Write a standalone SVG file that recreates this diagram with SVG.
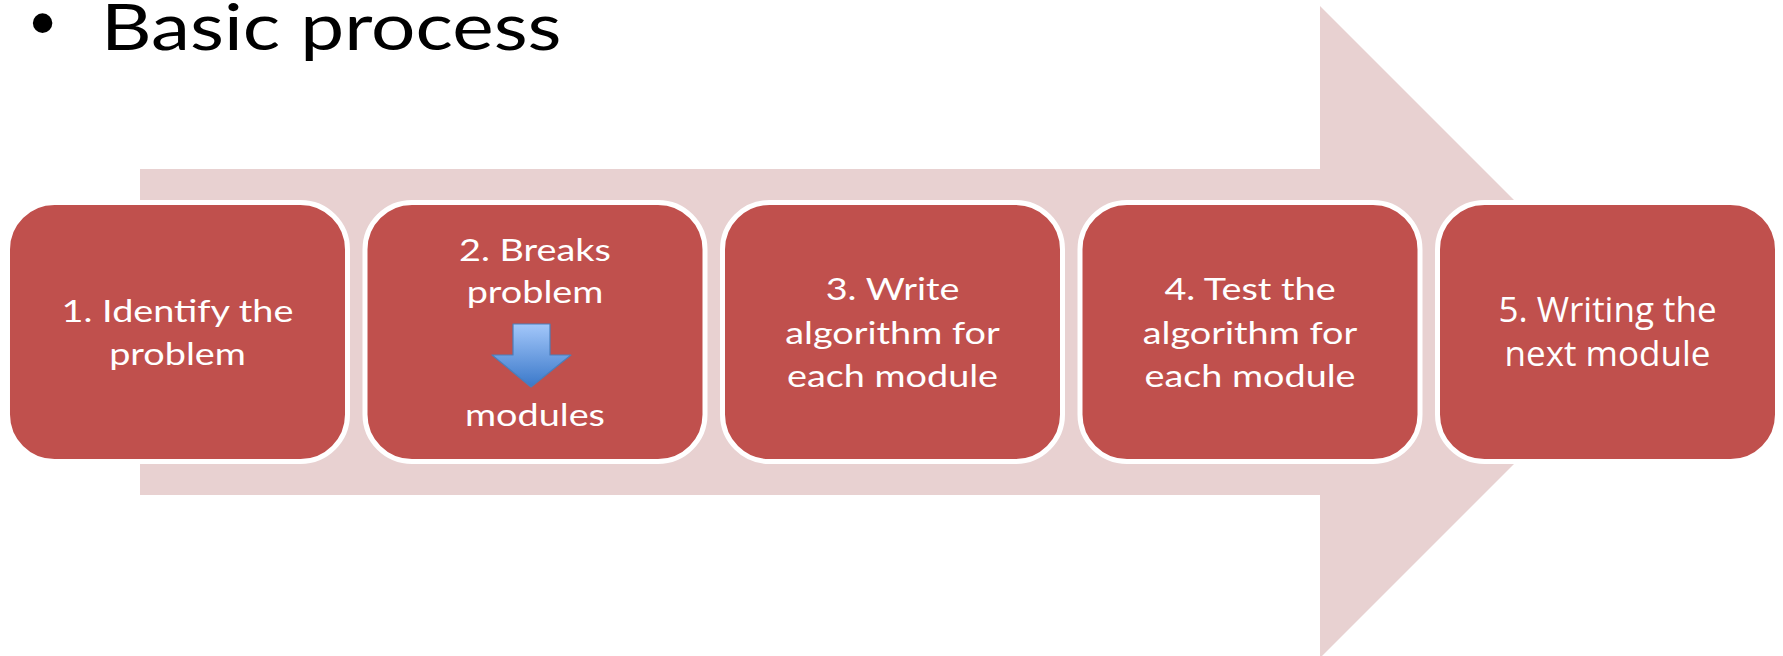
<svg xmlns="http://www.w3.org/2000/svg" width="1783" height="656" viewBox="0 0 1783 656">
<style>
.box{fill:#C0504D;stroke:#FFFFFF;stroke-width:5}
.t{font-family:Lato,"Liberation Sans",sans-serif;font-size:31.5px;fill:#FFFFFF;text-anchor:middle}
.t5{font-family:"Open Sans","Liberation Sans",sans-serif;font-size:35px;fill:#FFFFFF;text-anchor:middle}
.title{font-family:Lato,"Liberation Sans",sans-serif;font-size:64px;fill:#000000}
</style>
<defs>
<linearGradient id="blue" x1="0" y1="0" x2="0" y2="1">
<stop offset="0" stop-color="#A3C7FA"/>
<stop offset="1" stop-color="#3A78C9"/>
</linearGradient>
</defs>
<rect width="1783" height="656" fill="#FFFFFF"/>
<g id="title">
<text x="30" y="47" font-family="'Liberation Sans',sans-serif" font-size="72" fill="#000000">•</text>
<text class="title" transform="translate(101,50) scale(1.225,1)" x="0" y="0">Basic process</text>
</g>
<g id="connectors">
<polygon points="140,169 1320,169 1320,6 1646,332 1320,658 1320,495 140,495" fill="#E8D1D1"/>
</g>
<g id="node1">
<rect class="box" x="7.5" y="202.5" width="340" height="259" rx="47"/>
<g transform="translate(177.5,0) scale(1.2,1)">
<text class="t" x="0" y="322">1. Identify the</text>
<text class="t" x="0" y="365">problem</text>
</g>
</g>
<g id="node2">
<rect class="box" x="365" y="202.5" width="340" height="259" rx="47"/>
<g transform="translate(535,0) scale(1.2,1)">
<text class="t" x="0" y="261">2. Breaks</text>
<text class="t" x="0" y="303">problem</text>
<text class="t" x="0" y="426">modules</text>
</g>
<polygon points="513,324 550,324 550,355 571,355 531,387 492,355 513,355" fill="url(#blue)" stroke="#4A7EBB" stroke-width="1.2" stroke-linejoin="round"/>
</g>
<g id="node3">
<rect class="box" x="722.5" y="202.5" width="340" height="259" rx="47"/>
<g transform="translate(892.5,0) scale(1.2,1)">
<text class="t" x="0" y="300">3. Write</text>
<text class="t" x="0" y="344">algorithm for</text>
<text class="t" x="0" y="387">each module</text>
</g>
</g>
<g id="node4">
<rect class="box" x="1080" y="202.5" width="340" height="259" rx="47"/>
<g transform="translate(1250,0) scale(1.2,1)">
<text class="t" x="0" y="300">4. Test the</text>
<text class="t" x="0" y="344">algorithm for</text>
<text class="t" x="0" y="387">each module</text>
</g>
</g>
<g id="node5">
<rect class="box" x="1437.5" y="202.5" width="340" height="259" rx="47"/>
<text class="t5" x="1607.5" y="322">5. Writing the</text>
<text class="t5" x="1607.5" y="366">next module</text>
</g>
</svg>
